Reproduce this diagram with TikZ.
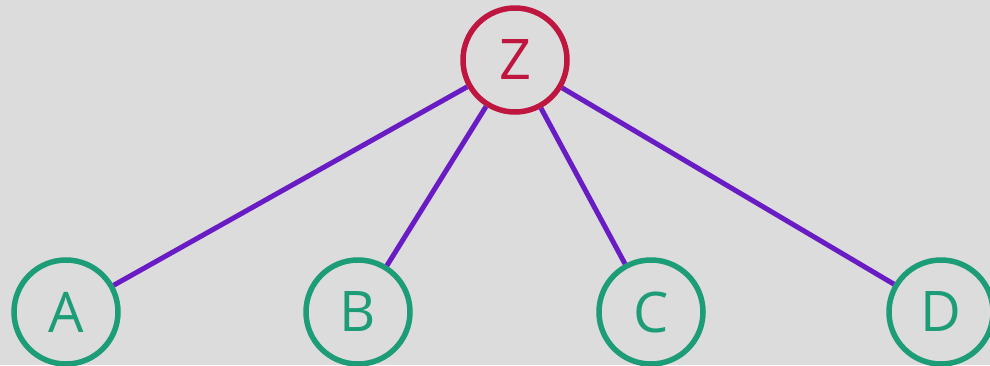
\documentclass[tikz,border=0pt]{standalone}
\usepackage{fontspec}
\setmainfont{Open Sans}
\definecolor{bgray}{HTML}{DCDCDC}
\definecolor{topred}{HTML}{BF1640}
\definecolor{leafgreen}{HTML}{1D9C78}
\definecolor{linkpurple}{HTML}{6A1CC4}
\begin{document}
\begin{tikzpicture}[x=1pt, y=-1pt,
    vert/.style={circle, line width=5.5pt, minimum size=104pt, inner sep=0pt,
        font=\fontsize{56}{60}\selectfont},
    root/.style={vert, draw=topred, text=topred},
    leaf/.style={vert, draw=leafgreen, text=leafgreen},
    link/.style={line width=5pt, draw=linkpurple}]
    \fill[bgray] (0,0) rectangle (990,365);
    \useasboundingbox (0,0) rectangle (990,365);
    \node[root] (z) at (515,60) {Z};
    \node[leaf] (a) at (66,312) {A};
    \node[leaf] (b) at (358,312) {B};
    \node[leaf] (c) at (651,312) {C};
    \node[leaf] (d) at (941,312) {D};
\foreach \v in {a,b,c,d}
{
    \draw[link] (z) -- (\v);
}
\end{tikzpicture}
\end{document}
